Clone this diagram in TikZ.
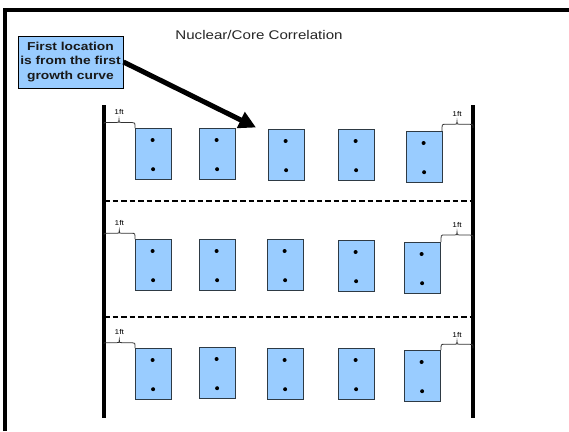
\documentclass[tikz,border=0pt]{standalone}
\usepackage{fontspec}
\setmainfont{Liberation Sans}
\usetikzlibrary{arrows.meta}
\definecolor{boxblue}{HTML}{99CCFF}
\definecolor{boxedge}{HTML}{2E3A44}
\newcommand{\sxx}[1]{\scalebox{1.2}[1]{#1}}
\newcommand{\ftbrace}[6]{%
  \draw[bracestyle] (#1,#2) .. controls (#1,#5) .. (#1+3,#5) -- (#6-2.5,#5)
    .. controls (#6,#5) .. (#6,#5-3) .. controls (#6,#5) .. (#6+2.5,#5)
    -- (#3-3,#5) .. controls (#3,#5) .. (#3,#4);}
\tikzset{
  core/.style={draw=boxedge, fill=boxblue, line width=1.2pt, minimum width=36pt,
    minimum height=51pt, inner sep=0pt, anchor=north west},
  bracestyle/.style={line width=0.8pt, draw=black!80},
  ftlab/.style={inner sep=0pt, font=\fontsize{7}{8}\selectfont, text=black},
  wall/.style={line width=3.5pt},
  divider/.style={line width=2pt, dash pattern=on 5.5pt off 3pt},
  callout/.style={draw=black, fill=boxblue, line width=1pt, minimum width=105pt,
    minimum height=52pt, inner sep=0pt, text=black!90,
    font=\bfseries\fontsize{11.5}{14.5}\selectfont},
}
\begin{document}
\begin{tikzpicture}[x=1pt,y=-1pt]
\useasboundingbox (0,0) rectangle (569,431);
\fill[white] (0,0) rectangle (569,431);
% outer frame
\draw[line width=4pt] (5,431) -- (5,10) -- (569,10);
% title
\node[anchor=base, inner sep=0pt, font=\fontsize{12.6}{15}\selectfont, text=black!85] (title) at (259,39) {\sxx{Nuclear/Core Correlation}};
% walls
\coordinate (LT) at (104,105); \coordinate (LB) at (104,418);
\coordinate (RT) at (473,105); \coordinate (RB) at (473,418);
\draw[wall] (LT) -- (LB);
\draw[wall] (RT) -- (RB);
% dividers
\coordinate (D1L) at (104,201); \coordinate (D1R) at (473,201);
\coordinate (D2L) at (104,317); \coordinate (D2R) at (473,317);
\draw[divider] (D1L) -- (D1R);
\draw[divider] (D2L) -- (D2R);
% cores
\foreach \r/\i/\x/\y in {1/1/135/128, 1/2/199/128, 1/3/268/129, 1/4/338/129, 1/5/406/131,
                         2/1/135/239, 2/2/199/239, 2/3/267/239, 2/4/338/240, 2/5/404/242,
                         3/1/135/348, 3/2/199/347, 3/3/267/348, 3/4/338/348, 3/5/404/350}{
  \node[core] (b\r\i) at (\x,\y) {};
  \fill ([xshift=-1pt,yshift=-12pt]b\r\i.north) circle[radius=2pt]
        ([xshift=-0.5pt,yshift=11pt]b\r\i.south) circle[radius=2pt];
}
% braces
\ftbrace{104}{123.5}{135}{128}{122.5}{119}
\node[ftlab] (f1l) at (119,111.5) {\sxx{1ft}};
\ftbrace{442}{131}{473}{128}{124.3}{457}
\node[ftlab] (f1r) at (457,114) {\sxx{1ft}};
\ftbrace{104}{234.5}{135}{239}{233.3}{119.3}
\node[ftlab] (f2l) at (119.3,223) {\sxx{1ft}};
\ftbrace{441}{242}{473}{240}{235}{457}
\node[ftlab] (f2r) at (457,224.7) {\sxx{1ft}};
\ftbrace{104}{343.5}{135}{348}{342.7}{119.3}
\node[ftlab] (f3l) at (119.3,332) {\sxx{1ft}};
\ftbrace{441}{350}{473}{348.3}{344.3}{457}
\node[ftlab] (f3r) at (457,334.5) {\sxx{1ft}};
% callout
\node[callout] (callout) at (70.5,62) {\raisebox{-1.5pt}{\sxx{\begin{tabular}{@{}c@{}}First location\\is from the first\\growth curve\end{tabular}}}};
\coordinate (tip) at (256,127.5);
\draw[line width=5pt, -{Triangle[length=17pt,width=17pt]}] (callout.east) -- (tip);
\end{tikzpicture}
\end{document}
